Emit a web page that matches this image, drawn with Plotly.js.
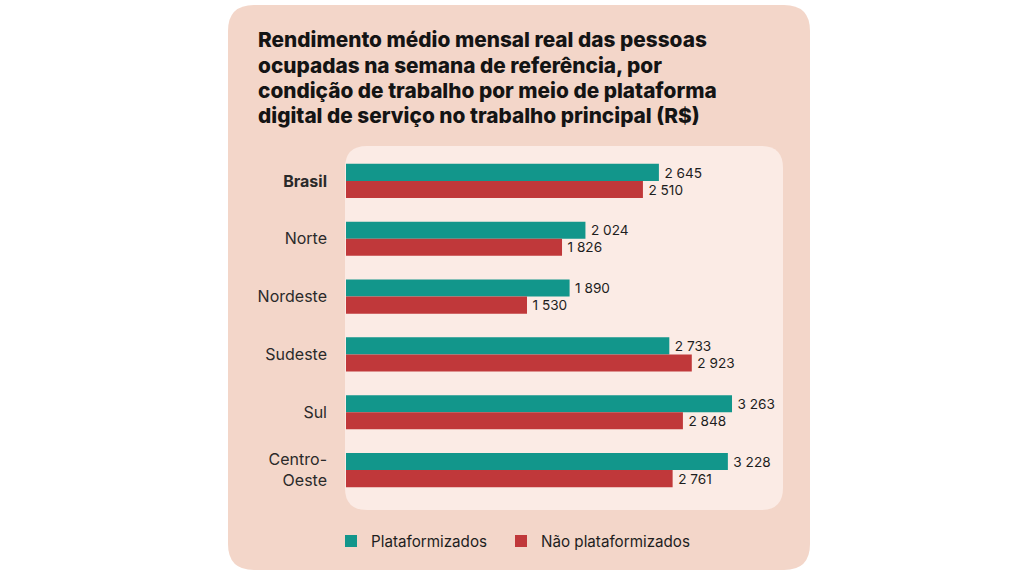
<!DOCTYPE html>
<html><head><meta charset="utf-8">
<script src="https://cdn.plot.ly/plotly-3.0.1.min.js"></script>
<style>html,body{margin:0;padding:0;background:#fff;}#chart{width:1024px;height:576px;}</style>
</head><body><div id="chart"></div>
<script>
const regions = ["Brasil", "Norte", "Nordeste", "Sudeste", "Sul", "Centro-Oeste"];
const regionLabels = ["<b>Brasil</b>", "Norte", "Nordeste", "Sudeste", "Sul", "Centro-<br>Oeste"];
const plataformizados = [2645, 2024, 1890, 2733, 3263, 3228];
const naoPlataformizados = [2510, 1826, 1530, 2923, 2848, 2761];
const seriesNames = ["Plataformizados", "Não plataformizados"];
const titleLines = [
  "Rendimento médio mensal real das pessoas",
  "ocupadas na semana de referência, por",
  "condição de trabalho por meio de plataforma",
  "digital de serviço no trabalho principal (R$)"
];

const W = 1024, H = 576;
const M = {l: 346, r: 241, t: 152, b: 77};
const PW = W - M.l - M.r, PH = H - M.t - M.b;
const px = x => (x - M.l) / PW;
const py = y => (H - M.b - y) / PH;
function roundRect(x0, y0, x1, y1, r) {
  const p = (x, y) => px(x) + "," + py(y);
  return "M" + p(x0 + r, y0) + " L" + p(x1 - r, y0) +
    " Q" + p(x1, y0) + " " + p(x1, y0 + r) +
    " L" + p(x1, y1 - r) + " Q" + p(x1, y1) + " " + p(x1 - r, y1) +
    " L" + p(x0 + r, y1) + " Q" + p(x0, y1) + " " + p(x0, y1 - r) +
    " L" + p(x0, y0 + r) + " Q" + p(x0, y0) + " " + p(x0 + r, y0) + " Z";
}

const FONT = "Inter, Lato, 'Noto Sans', sans-serif";
const teal = "#12968b", red = "#c0383a";

const traces = [
  {type: "bar", orientation: "h", name: seriesNames[0], y: regions, x: plataformizados,
   marker: {color: teal}, texttemplate: "\u2009%{x:,}", textposition: "outside", cliponaxis: false,
   textfont: {size: 16, color: "#1e1e1e", family: FONT}, hoverinfo: "x+y", legend: "legend"},
  {type: "bar", orientation: "h", name: seriesNames[1], y: regions, x: naoPlataformizados,
   marker: {color: red}, texttemplate: "\u2009%{x:,}", textposition: "outside", cliponaxis: false,
   textfont: {size: 16, color: "#1e1e1e", family: FONT}, hoverinfo: "x+y", legend: "legend2"}
];

const titleAnns = titleLines.map((t, i) => ({
  xref: "paper", yref: "paper", x: px(256), y: py(40 + i * 25.3), xanchor: "left", yanchor: "middle",
  align: "left", showarrow: false, text: t,
  font: {size: 20.8, weight: 800, color: "#141414", family: FONT}
}));

const legendBase = {orientation: "h", xanchor: "left", y: py(541), yanchor: "middle",
  font: {size: 15.2, color: "#1e1e1e", family: FONT}, bgcolor: "rgba(0,0,0,0)"};

const layout = {
  width: W, height: H, margin: M,
  paper_bgcolor: "#ffffff", plot_bgcolor: "rgba(0,0,0,0)",
  separators: ", ",
  font: {family: FONT, color: "#1e1e1e", size: 15},
  barmode: "group", bargap: 0.41, bargroupgap: 0,
  xaxis: {range: [0, 3694], showgrid: false, zeroline: false, showticklabels: false, ticks: "", fixedrange: true},
  yaxis: {type: "category", autorange: "reversed", tickmode: "array", tickvals: regions, ticktext: regionLabels,
          showgrid: false, zeroline: false, ticks: "", ticklabelstandoff: 18,
          tickfont: {size: 16, color: "#2a2a2a", family: FONT}},
  showlegend: true,
  legend: Object.assign({x: px(331)}, legendBase),
  legend2: Object.assign({x: px(501)}, legendBase),
  shapes: [
    {type: "path", xref: "paper", yref: "paper", layer: "below", path: roundRect(228, 5, 810, 570, 26),
     fillcolor: "#f3d6c9", line: {width: 0}},
    {type: "path", xref: "paper", yref: "paper", layer: "below", path: roundRect(345, 146, 783, 510, 22),
     fillcolor: "#fbebe5", line: {width: 0}}
  ],
  annotations: titleAnns
};

Plotly.newPlot("chart", traces, layout, {displayModeBar: false, staticPlot: true});
</script></body></html>
